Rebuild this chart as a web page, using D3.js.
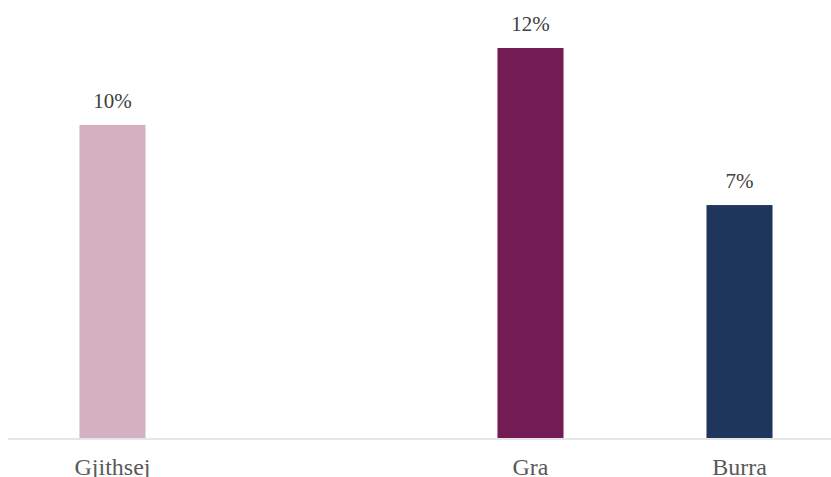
<!DOCTYPE html>
<html><head><meta charset="utf-8">
<script src="https://cdn.jsdelivr.net/npm/d3@7"></script>
<style>body{margin:0;background:#fff}svg{display:block}</style>
</head><body>
<script>
const categories = ["Gjithsej", "", "Gra", "Burra"];
const values = [9.64, null, 12.0, 7.18];
const labels = ["10%", "", "12%", "7%"];
const colors = ["#d3b1c0", "#ffffff", "#721b55", "#1f365c"];

const W = 831, H = 477;
const svg = d3.select("body").append("svg").attr("width", W).attr("height", H);
const x = d3.scaleBand().domain(categories.map((c,i)=>i)).range([8, 844]).paddingInner(0.684).paddingOuter(0.342);
const y = d3.scaleLinear().domain([0, 12]).range([439, 48]);
const font = "'Liberation Serif', serif";

categories.forEach((c,i)=>{
  if (values[i] == null) return;
  svg.append("rect").attr("x", x(i)).attr("width", x.bandwidth())
    .attr("y", y(values[i])).attr("height", y(0)-y(values[i])).attr("fill", colors[i]);
  svg.append("text").attr("x", x(i)+x.bandwidth()/2).attr("y", y(values[i])-17)
    .attr("text-anchor","middle").attr("font-family",font).attr("font-size",21)
    .attr("fill","#404040").text(labels[i]);
});
svg.append("line").attr("x1",8).attr("x2",W).attr("y1",439).attr("y2",439)
  .attr("stroke","#e6e6e6").attr("stroke-width",2);
const xa = svg.append("g").attr("transform","translate(0,439)")
  .call(d3.axisBottom(x).tickSize(0).tickFormat(i=>categories[i]));
xa.select(".domain").remove();
xa.selectAll("text").attr("font-family",font).attr("font-size",24).attr("fill","#595959")
  .attr("dy",null).attr("y",36);
</script>
</body></html>
